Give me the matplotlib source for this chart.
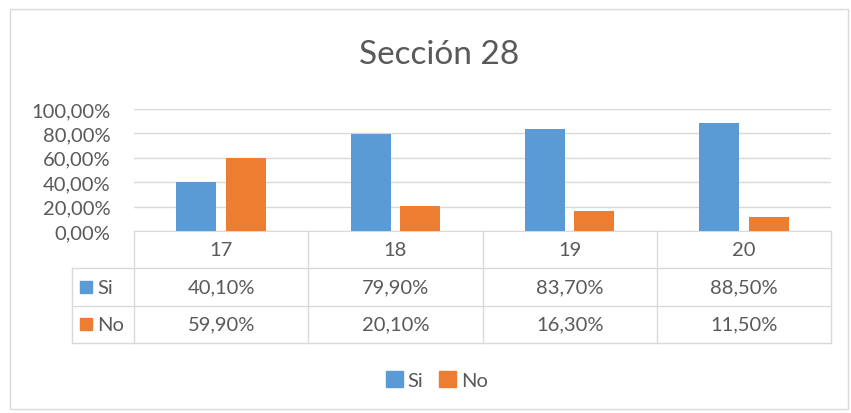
import matplotlib
matplotlib.use("Agg")
import matplotlib.pyplot as plt
from matplotlib.patches import Rectangle

# data
categories = ["17", "18", "19", "20"]
si_values = [40.10, 79.90, 83.70, 88.50]
no_values = [59.90, 20.10, 16.30, 11.50]
y_ticks = [0, 20, 40, 60, 80, 100]
series_names = ["Si", "No"]

blue = "#5B9BD5"
orange = "#ED7D31"
grid_c = "#D9D9D9"
text_c = "#595959"

plt.rcParams['font.family'] = ['Lato', 'DejaVu Sans']

W, H = 851, 414
fig = plt.figure(figsize=(W / 100, H / 100), dpi=100)
fig.patch.set_facecolor("white")

def fx(px):
    return px / W

def fy(py):
    return 1 - py / H

def pct(v):
    return ("%.2f" % v).replace(".", ",") + "%"

# outer chart border
fig.patches.append(Rectangle((fx(10), fy(410)), fx(838), 400 / H, transform=fig.transFigure,
                             fill=False, edgecolor=grid_c, linewidth=1))

fig.text(fx(439), fy(55), "Sección 28", ha="center", va="center", fontsize=24, color=text_c)

# bar area
left, right, top, base = 134, 831, 110, 232
ax = fig.add_axes([fx(left), fy(base), fx(right - left), (base - top) / H])
n = len(categories)
xs = [i + 0.5 for i in range(n)]
bw = 0.23
off = 0.142
ax.bar([x - off for x in xs], si_values, width=bw, color=blue, zorder=3)
ax.bar([x + off for x in xs], no_values, width=bw, color=orange, zorder=3)
ax.set_xlim(0, n)
ax.set_ylim(0, 100)
ax.set_yticks(y_ticks)
ax.set_yticklabels([pct(v) for v in y_ticks], fontsize=14.5, color=text_c)
ax.tick_params(axis="y", length=0, pad=17)
ax.set_xticks([])
ax.grid(axis="y", color=grid_c, linewidth=1, zorder=0)
for s in ["left", "right", "top"]:
    ax.spines[s].set_visible(False)
ax.spines["bottom"].set_color(grid_c)
ax.patch.set_alpha(0)

# data table
tl, tr, ttop, tbot = 72, 831, 232, 344
tab = fig.add_axes([fx(tl), fy(tbot), fx(tr - tl), (tbot - ttop) / H])
lab_w = (left - tl) / ((right - left) / n)
tab.set_xlim(-lab_w, n)
tab.set_ylim(0, 3)
tab.axis("off")
lw = 1
for i in range(n + 1):
    tab.plot([i, i], [0, 3], color=grid_c, lw=lw, clip_on=False)
tab.plot([-lab_w, -lab_w], [0, 2], color=grid_c, lw=lw, clip_on=False)
for yy in [0, 1, 2]:
    tab.plot([-lab_w, n], [yy, yy], color=grid_c, lw=lw, clip_on=False)
for i, c in enumerate(categories):
    tab.text(i + 0.5, 2.5, c, ha="center", va="center", fontsize=14.5, color=text_c)
rows = [(si_values, blue, 1.5), (no_values, orange, 0.5)]
for (vals, col, yy), name in zip(rows, series_names):
    tab.add_patch(Rectangle((-lab_w + 0.046, yy - 0.16), 0.069, 0.32, color=col, clip_on=False))
    tab.text(-lab_w + 0.145, yy, name, ha="left", va="center", fontsize=14.5, color=text_c)
    for i, v in enumerate(vals):
        tab.text(i + 0.5, yy, pct(v), ha="center", va="center", fontsize=14.5, color=text_c)

# legend
handles = [Rectangle((0, 0), 1, 1, color=blue), Rectangle((0, 0), 1, 1, color=orange)]
fig.legend(handles, series_names, loc="center", bbox_to_anchor=(fx(437), fy(381)), ncol=2,
           frameon=False, fontsize=14.5, labelcolor=text_c, handlelength=0.8, handleheight=0.8,
           handletextpad=0.25, columnspacing=0.8)

fig.savefig("out.png", dpi=100)
